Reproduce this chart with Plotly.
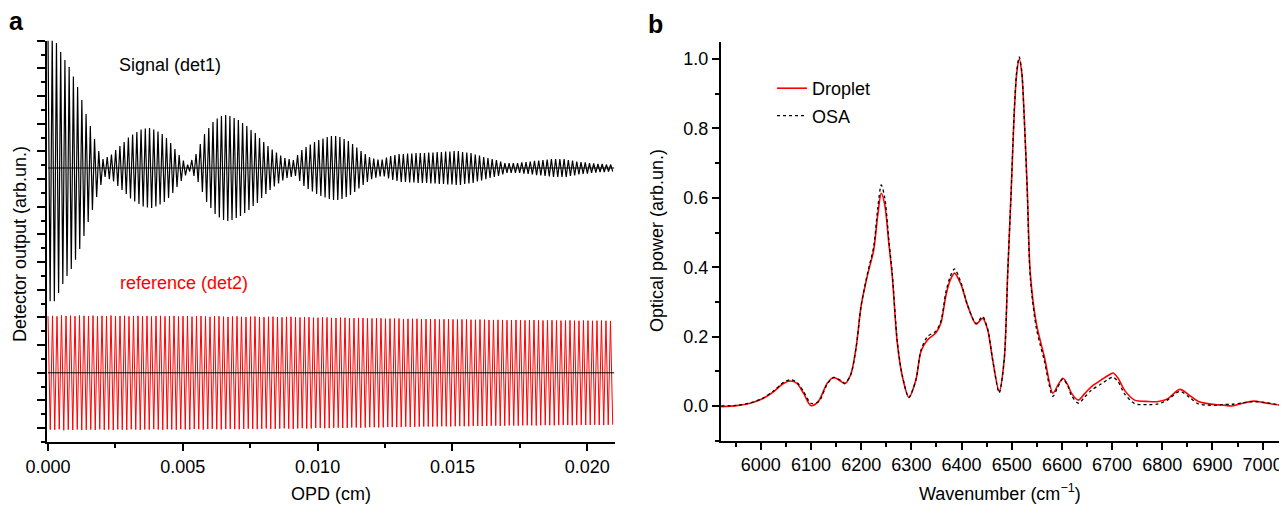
import numpy as np
import plotly.graph_objects as go

# page is shown with the browser's default 8px body margin
PAGE_W, PAGE_H, BODY = 1287, 506, 8
W, H = PAGE_W - BODY, PAGE_H - BODY

# ---------------- panel a : interferograms ----------------
opd_ticks = [0.0, 0.005, 0.010, 0.015, 0.020]
opd_tick_text = ["0.000", "0.005", "0.010", "0.015", "0.020"]
opd_max = 0.0210
signal_period_cm = 1.569e-4      # fringe period of det1 (cm)
ref_period_cm = 1.669e-4         # fringe period of det2 (cm)
signal_offset = 19.8             # baseline of det1 trace (arb.)
ref_offset = 5.0                 # baseline of det2 trace (arb.)

# fringe amplitude of det1, one value per fringe (arb.)
signal_amp = [
    9.62, 9.62, 9.04, 8.39, 7.81, 7.30, 6.62, 5.86, 4.92, 3.90,
    3.04, 2.10, 1.23, 0.65, 0.80, 0.98, 1.30, 1.59, 1.88, 2.21,
    2.42, 2.60, 2.78, 2.86, 2.89, 2.78, 2.64, 2.46, 2.17, 1.81,
    1.37, 0.94, 0.54, 0.25, 0.58, 1.01, 1.74, 2.46, 2.89, 3.33,
    3.58, 3.76, 3.83, 3.76, 3.62, 3.47, 3.25, 3.04, 2.75, 2.53,
    2.17, 1.88, 1.59, 1.34, 1.12, 0.90, 0.72, 0.65, 0.58, 0.94,
    1.30, 1.52, 1.70, 1.88, 2.02, 2.13, 2.24, 2.31, 2.31, 2.24,
    2.10, 1.95, 1.74, 1.48, 1.23, 1.01, 0.80, 0.69, 0.61, 0.61,
    0.76, 0.87, 0.94, 1.01, 1.01, 1.05, 1.05, 1.08, 1.08, 1.08,
    1.12, 1.12, 1.16, 1.16, 1.19, 1.19, 1.23, 1.23, 1.16, 1.12,
    1.08, 0.98, 0.90, 0.80, 0.72, 0.65, 0.58, 0.47, 0.36, 0.36,
    0.36, 0.36, 0.40, 0.43, 0.47, 0.51, 0.54, 0.58, 0.61, 0.65,
    0.65, 0.65, 0.65, 0.58, 0.54, 0.47, 0.43, 0.40, 0.36, 0.33,
    0.29, 0.29, 0.25, 0.25, 0.25,
]

# fringe amplitude of det2, one value per fringe (arb.)
ref_amp = [
    4.10, 4.12, 4.08, 4.15, 4.11, 4.13, 4.09, 4.14, 4.12, 4.10,
    4.13, 4.08, 4.12, 4.10, 4.14, 4.09, 4.11, 4.12, 4.08, 4.10,
    4.12, 4.09, 4.11, 4.07, 4.10, 4.12, 4.08, 4.09, 4.11, 4.07,
    4.09, 4.10, 4.06, 4.08, 4.10, 4.07, 4.05, 4.08, 4.09, 4.06,
    4.04, 4.07, 4.08, 4.05, 4.03, 4.06, 4.07, 4.04, 4.02, 4.05,
    4.06, 4.03, 4.01, 4.04, 4.05, 4.02, 4.00, 4.03, 4.02, 3.99,
    3.98, 4.01, 4.00, 3.97, 3.96, 3.99, 3.98, 3.95, 3.95, 3.97,
    3.96, 3.93, 3.93, 3.95, 3.94, 3.91, 3.92, 3.93, 3.92, 3.89,
    3.90, 3.91, 3.90, 3.88, 3.88, 3.89, 3.88, 3.86, 3.87, 3.88,
    3.86, 3.85, 3.86, 3.86, 3.84, 3.83, 3.85, 3.84, 3.82, 3.82,
    3.83, 3.82, 3.80, 3.81, 3.82, 3.80, 3.79, 3.80, 3.81, 3.79,
    3.78, 3.79, 3.80, 3.78, 3.77, 3.78, 3.79, 3.77, 3.76, 3.78,
    3.77, 3.76, 3.77, 3.78, 3.76, 3.75,
]

# ---------------- panel b : spectra ----------------
wn_ticks = [6000, 6100, 6200, 6300, 6400, 6500, 6600, 6700, 6800, 6900, 7000]
power_ticks = [0.0, 0.2, 0.4, 0.6, 0.8, 1.0]

wn_droplet = [
    5921, 5952, 5979, 6002, 6025, 6045, 6059, 6072, 6085, 6100,
    6115, 6132, 6145, 6159, 6167, 6179, 6190, 6200, 6213, 6225,
    6233, 6240, 6247, 6255, 6262, 6272, 6282, 6295, 6309, 6319,
    6332, 6349, 6359, 6369, 6378, 6386, 6399, 6412, 6429, 6442,
    6452, 6462, 6475, 6485, 6492, 6499, 6505, 6510, 6515, 6520,
    6524, 6531, 6537, 6549, 6565, 6582, 6592, 6602, 6612, 6619,
    6633, 6645, 6659, 6679, 6692, 6702, 6712, 6725, 6745, 6772,
    6792, 6810, 6835, 6855, 6872, 6905, 6920, 6939, 6960, 6982,
    7005, 7032, 7050,
]
droplet = [
    -0.002, 0.001, 0.008, 0.020, 0.041, 0.065, 0.072, 0.065, 0.037, 0.001,
    0.014, 0.065, 0.082, 0.072, 0.064, 0.090, 0.170, 0.290, 0.380, 0.450,
    0.550, 0.613, 0.580, 0.470, 0.373, 0.181, 0.085, 0.025, 0.075, 0.157,
    0.190, 0.211, 0.240, 0.320, 0.365, 0.383, 0.350, 0.290, 0.236, 0.253,
    0.220, 0.133, 0.042, 0.133, 0.383, 0.623, 0.844, 0.960, 1.000, 0.960,
    0.863, 0.623, 0.383, 0.238, 0.142, 0.037, 0.060, 0.080, 0.060, 0.037,
    0.017, 0.035, 0.056, 0.076, 0.088, 0.095, 0.080, 0.045, 0.017, 0.013,
    0.013, 0.020, 0.048, 0.030, 0.013, 0.004, 0.003, 0.000, 0.008, 0.014,
    0.009, 0.003, 0.003,
]

wn_osa = list(wn_droplet)
osa = [
    0.000, 0.002, 0.009, 0.021, 0.043, 0.068, 0.076, 0.068, 0.042, 0.008,
    0.012, 0.062, 0.082, 0.074, 0.066, 0.090, 0.170, 0.290, 0.385, 0.460,
    0.570, 0.637, 0.600, 0.480, 0.380, 0.185, 0.088, 0.025, 0.075, 0.160,
    0.200, 0.216, 0.245, 0.330, 0.375, 0.395, 0.355, 0.290, 0.238, 0.258,
    0.222, 0.133, 0.038, 0.133, 0.383, 0.625, 0.850, 0.965, 1.006, 0.965,
    0.860, 0.615, 0.370, 0.225, 0.130, 0.028, 0.055, 0.078, 0.057, 0.030,
    0.008, 0.025, 0.046, 0.064, 0.077, 0.083, 0.070, 0.035, 0.007, 0.004,
    0.006, 0.017, 0.042, 0.024, 0.006, 0.002, 0.004, 0.005, 0.009, 0.013,
    0.010, 0.004, 0.003,
]


def fringe_trace(amps, period, offset):
    """Zig-zag through the fringe maxima / minima listed in amps."""
    a = np.asarray(amps, dtype=float)
    k = np.arange(len(a))
    x = np.empty(2 * len(a))
    y = np.empty(2 * len(a))
    x[0::2] = k * period
    x[1::2] = k * period + period / 2.0
    y[0::2] = offset + a
    y[1::2] = offset - a
    keep = x <= opd_max + 1e-9
    return x[keep], y[keep]


FONT = "Liberation Sans, Arial, Helvetica, sans-serif"
fig = go.Figure()

sx, sy = fringe_trace(signal_amp, signal_period_cm, signal_offset)
rx, ry = fringe_trace(ref_amp, ref_period_cm, ref_offset)

fig.add_trace(go.Scatter(x=sx, y=sy, mode="lines", line=dict(color="black", width=1.2),
                         showlegend=False, xaxis="x", yaxis="y", hoverinfo="skip"))
fig.add_trace(go.Scatter(x=rx, y=ry, mode="lines", line=dict(color="#ff0000", width=1.0),
                         showlegend=False, xaxis="x", yaxis="y", hoverinfo="skip"))
fig.add_trace(go.Scatter(x=[0, opd_max], y=[signal_offset, signal_offset], mode="lines",
                         line=dict(color="black", width=1), showlegend=False,
                         xaxis="x", yaxis="y", hoverinfo="skip"))
fig.add_trace(go.Scatter(x=[0, opd_max], y=[ref_offset, ref_offset], mode="lines",
                         line=dict(color="black", width=1), showlegend=False,
                         xaxis="x", yaxis="y", hoverinfo="skip"))

fig.add_trace(go.Scatter(x=wn_droplet, y=droplet, mode="lines", name="Droplet",
                         line=dict(color="#ff0000", width=1.6, shape="spline", smoothing=0.8),
                         xaxis="x2", yaxis="y2", legendgroup="d"))
fig.add_trace(go.Scatter(x=wn_osa, y=osa, mode="lines", name="OSA",
                         line=dict(color="black", width=1.3, dash="dot", shape="spline", smoothing=0.8),
                         xaxis="x2", yaxis="y2", legendgroup="o"))


def px_x(p):
    return (p - BODY) / W


def px_y(p):
    return (PAGE_H - p) / H


axis_common = dict(showgrid=False, zeroline=False, showline=True, linecolor="black",
                   linewidth=2, ticks="outside", tickcolor="black", tickwidth=1.5,
                   automargin=False,
                   tickfont=dict(family=FONT, size=18, color="black"))

fig.update_layout(
    template="none",
    width=W, height=H,
    margin=dict(l=0, r=0, t=0, b=0, pad=0, autoexpand=False),
    paper_bgcolor="white", plot_bgcolor="white",
    font=dict(family=FONT, size=18, color="black"),
    xaxis=dict(domain=[px_x(47), px_x(615)], range=[-0.0000371, 0.02103], anchor="y",
               tickvals=opd_ticks, ticktext=opd_tick_text, ticklen=7,
               minor=dict(dtick=0.0025, tick0=0, ticklen=4, ticks="outside",
                          tickcolor="black", tickwidth=1.5),
               **axis_common),
    yaxis=dict(domain=[px_y(442), px_y(40.7)], range=[0, 29], anchor="x",
               tick0=1, dtick=2, ticklen=8, showticklabels=False,
               minor=dict(dtick=1, tick0=0, ticklen=4, ticks="outside",
                          tickcolor="black", tickwidth=1.5),
               **axis_common),
    xaxis2=dict(domain=[px_x(721), 1.0], range=[5920.6, 7048.6], anchor="y2",
                tickvals=wn_ticks, ticklen=7,
                minor=dict(dtick=50, tick0=6000, ticklen=4, ticks="outside",
                           tickcolor="black", tickwidth=1.5),
                **axis_common),
    yaxis2=dict(domain=[px_y(440.7), px_y(41.7)], range=[-0.1, 1.05], anchor="x2",
                tickvals=power_ticks, tickformat=".1f", ticklen=7,
                minor=dict(dtick=0.1, tick0=0, ticklen=4, ticks="outside",
                           tickcolor="black", tickwidth=1.5),
                **axis_common),
    showlegend=True,
    legend=dict(x=px_x(772), y=px_y(70), xanchor="left", yanchor="top",
                bgcolor="rgba(0,0,0,0)", font=dict(family=FONT, size=18, color="black"),
                tracegroupgap=1, itemwidth=30),
)

ann = [
    dict(text="<b>a</b>", x=px_x(16), y=px_y(21), size=25, color="black", angle=0),
    dict(text="<b>b</b>", x=px_x(655), y=px_y(24), size=25, color="black", angle=0),
    dict(text="Signal (det1)", x=px_x(170), y=px_y(65), size=18, color="black", angle=0),
    dict(text="reference (det2)", x=px_x(183.5), y=px_y(283), size=18, color="#ff0000", angle=0),
    dict(text="OPD (cm)", x=px_x(331), y=px_y(494), size=18, color="black", angle=0),
    dict(text="Wavenumber (cm<sup>\u22121</sup>)", x=px_x(1000), y=px_y(492), size=18,
         color="black", angle=0),
    dict(text="Detector output (arb.un.)", x=px_x(19.5), y=px_y(244.5), size=18,
         color="black", angle=-90),
    dict(text="Optical power (arb.un.)", x=px_x(657), y=px_y(241), size=18,
         color="black", angle=-90),
]
for a in ann:
    fig.add_annotation(text=a["text"], x=a["x"], y=a["y"], xref="paper", yref="paper",
                       xanchor="center", yanchor="middle", showarrow=False,
                       textangle=a["angle"],
                       font=dict(family=FONT, size=a["size"], color=a["color"]))

fig.write_html("out.html")
